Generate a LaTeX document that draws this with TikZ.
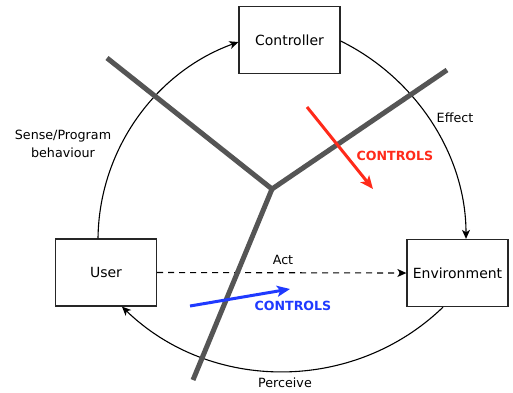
\documentclass[tikz,border=0pt]{standalone}
\usepackage{fontspec}
\setmainfont{DejaVu Sans}
\usetikzlibrary{arrows.meta}
\definecolor{barrier}{HTML}{555555}
\definecolor{ctrlred}{HTML}{FF2A1A}
\definecolor{ctrlblue}{HTML}{1F3AFF}
\begin{document}
\begin{tikzpicture}[x=1pt,y=-1pt,
  box/.style={draw=black!85,line width=1.3pt,minimum width=101pt,minimum height=67pt,
    inner sep=0pt,font=\fontsize{14}{16}\selectfont},
  lbl/.style={inner sep=0pt,align=center,font=\fontsize{12.7}{18}\selectfont},
  flow/.style={line width=1.1pt,-{Stealth[length=9pt,width=8pt,inset=2.5pt]}},
  wall/.style={barrier,line width=5pt},
  ctrl/.style={line width=3pt,-{Stealth[length=13pt,width=11pt,inset=3pt]}},
  ctrltext/.style={inner sep=0pt,font=\bfseries\fontsize{12.6}{14}\selectfont}]
\useasboundingbox (0,0) rectangle (513,392);

% the three actors
\node[box] (ctrlr) at (289.5,40) {Controller};
\node[box] (user)  at (106,272.5) {User};
\node[box] (env)   at (457.5,273) {Environment};

% the loop of influences
\draw[flow] ([xshift=-8pt]user.north) .. controls +(1,-88.5) and +(-83,30) .. ([yshift=-2pt]ctrlr.west);
\draw[flow] ([yshift=-1pt]ctrlr.east) .. controls +(75,37) and +(0,-84) .. ([xshift=8.5pt]env.north);
\draw[flow] ([xshift=-14.5pt]env.south) .. controls +(-89,86) and +(89,86) .. ([xshift=16pt]user.south);
\draw[flow,dashed,dash pattern=on 6pt off 5pt] (user.east) -- (env.west);

% the dividing walls
\coordinate (hub) at (272,189);
\coordinate (wallA) at (107,58);
\coordinate (wallB) at (447,70);
\coordinate (wallC) at (193,380);
\draw[wall,line join=miter] (wallA) -- (hub) -- (wallB);
\draw[wall] (hub) -- (wallC);

% the controls crossing the walls
\coordinate (r1) at (307,107);
\coordinate (r2) at (373,189);
\coordinate (b1) at (190,306);
\coordinate (b2) at (290,289);
\draw[ctrl,ctrlred] (r1) -- (r2);
\draw[ctrl,ctrlblue] (b1) -- (b2);

% labels
\node[lbl] (sense) at (63,144) {Sense/Program\\behaviour};
\node[lbl] (effect) at (455,118) {Effect};
\node[lbl] (act) at (283,260) {Act};
\node[lbl] (perceive) at (285,383) {Perceive};
\node[ctrltext,ctrlred] (redlbl) at (395,156) {CONTROLS};
\node[ctrltext,ctrlblue] (bluelbl) at (293,306) {CONTROLS};
\end{tikzpicture}
\end{document}
